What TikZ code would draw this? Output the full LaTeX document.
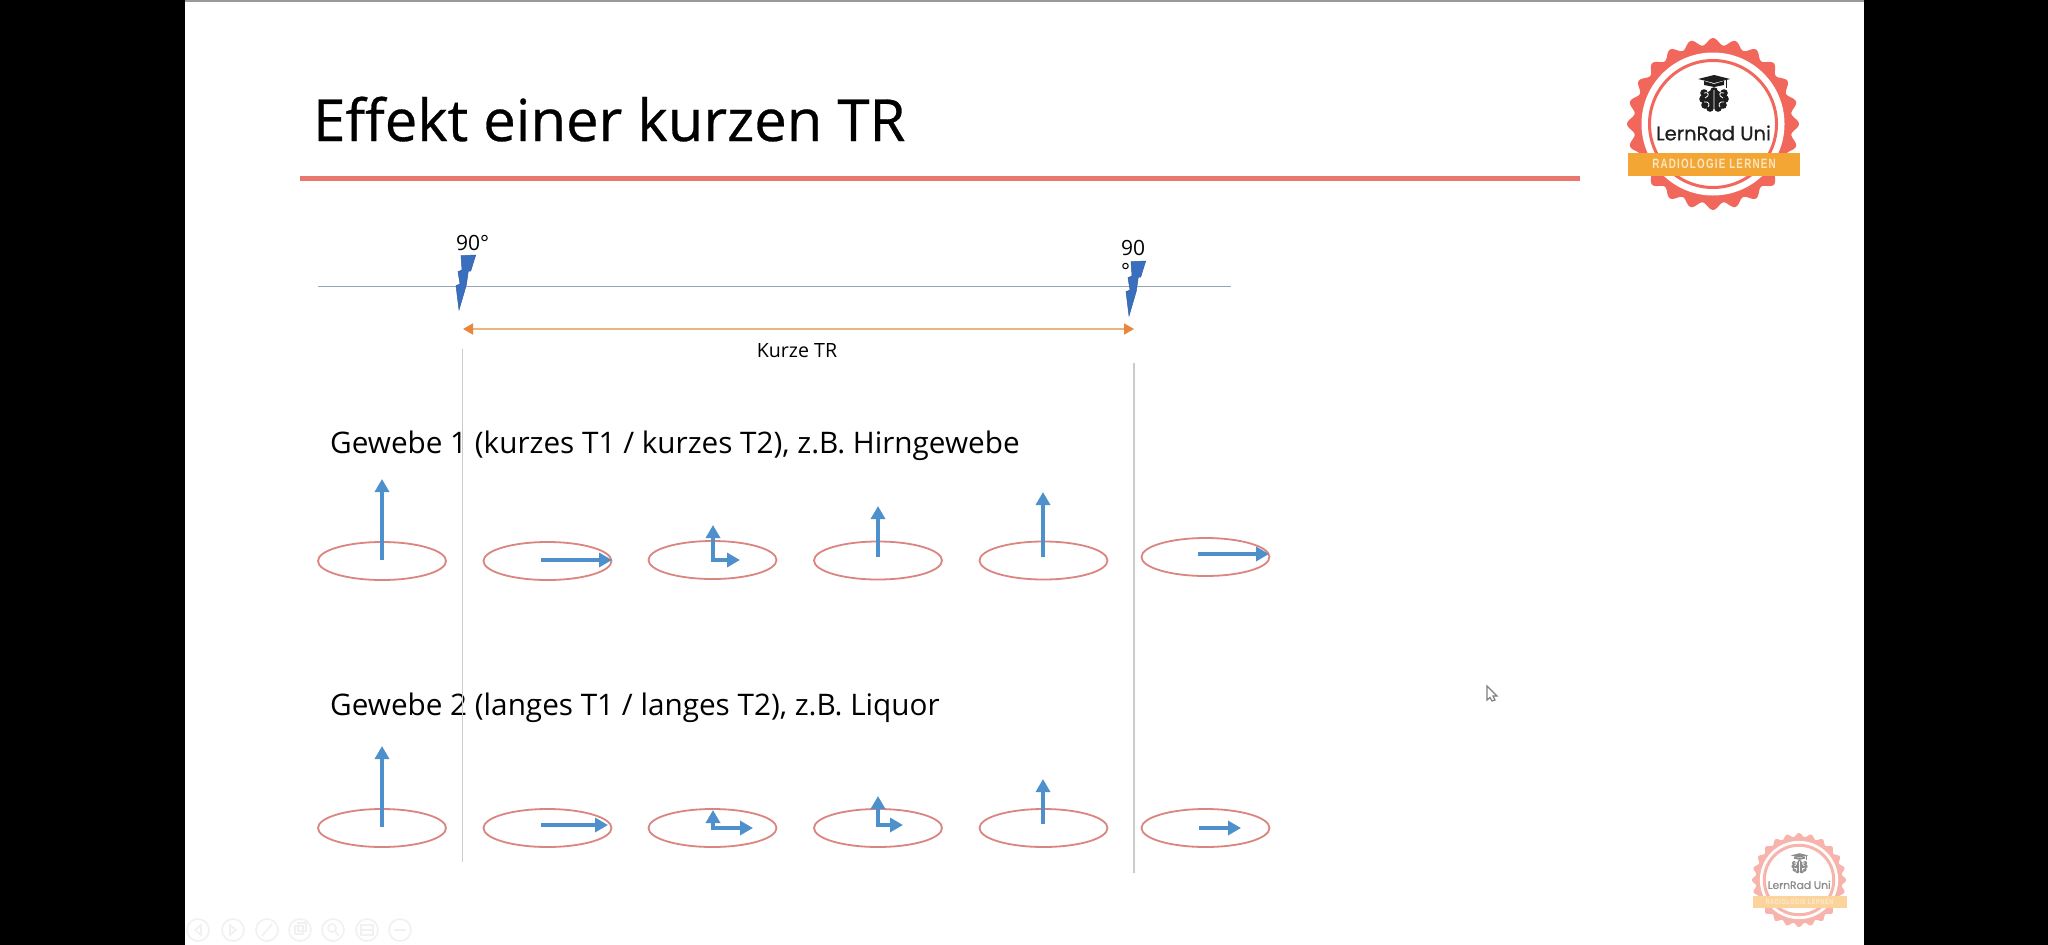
\documentclass[tikz,border=0pt]{standalone}
\usepackage{fontspec}
\setmainfont{Open Sans}
\newfontfamily\titlefont[FakeBold=0.5]{Open Sans}
\newfontfamily\logofont[FakeBold=0.6]{Poppins}
\newfontfamily\bannerfont[LetterSpace=12]{Liberation Sans}
\usetikzlibrary{shapes.geometric,arrows.meta}
\definecolor{slidered}{HTML}{E9776E}
\definecolor{ringred}{HTML}{DB8580}
\definecolor{vecblue}{HTML}{4E90CB}
\definecolor{boltblue}{HTML}{3A6FBF}
\definecolor{axisgrey}{HTML}{93A5B5}
\definecolor{guide}{HTML}{CBCBCB}
\definecolor{orangeline}{HTML}{EBB67C}
\definecolor{orangetip}{HTML}{E8873C}
\definecolor{toolgrey}{HTML}{F1F1F1}
\tikzset{
  disc/.style={ellipse,draw=ringred,line width=1.8pt,minimum width=128pt,minimum height=38pt,inner sep=0pt},
  vec/.style={draw=vecblue,line width=4.6pt,line cap=butt,-{Triangle[length=13pt,width=14pt]}},
  guideline/.style={draw=guide,line width=1.4pt},
  heading/.style={anchor=base west,inner sep=0pt,font=\fontsize{29.7}{35}\selectfont},
  toolicon/.style={draw=toolgrey,line width=1.6pt,fill=none},
  toolglyph/.style={draw=toolgrey,line width=1.6pt}
}
\newcommand{\lightningbolt}[1]{%
  \fill[boltblue,draw=boltblue!85!black,line width=.5pt,shift={(#1)}]
   (461,255.7)--(475.7,255)--(470.7,271)--(468.3,271)--(466.3,285)--(459,310)--(456,285.7)--(460,284)--(458,271.7)--(462,270)--cycle;}
\newcommand{\lernlogo}[4]{% x y scale name; colours: lgred lgcream lgink lgbanner
  \begin{scope}[shift={(#1,#2)},scale=#3,transform shape]
    \fill[lgred] plot[smooth,samples=289,domain=0:360,variable=\t] ({(82.5+3.5*cos(24*\t))*cos(\t)},{(82.5+3.5*cos(24*\t))*sin(\t)}) -- cycle;
    \fill[white] (0,0) circle (71.5);
    \draw[lgred,line width=3pt] (0,0) circle (63.5);
    % cap
    \fill[lgink] (-15,-45)--(1,-49)--(17,-45)--(1,-41)--cycle;
    \fill[lgink] (-9,-43)--(1,-40)--(11,-43)--(11,-39)--(1,-37)--(-9,-39)--cycle;
    \draw[lgink,line width=1pt] (13,-45)--(13,-36);
    % brain
    \fill[lgink] (1,-25) ellipse (10 and 9);
    \foreach \px/\py in {-9/-31,-10/-25,-8/-19,-3/-16,5/-16,10/-19,12/-25,11/-31,1/-33}{\fill[lgink] (\px,\py) circle (3.8);}
    \draw[white,line width=.8pt] (1,-34)--(1,-16) (-9,-31) .. controls (-4,-33) and (-3,-28) .. (-8,-26) (-9,-22) .. controls (-4,-23) and (-3,-19) .. (-5,-17) (11,-31) .. controls (6,-33) and (5,-28) .. (10,-26) (11,-22) .. controls (6,-23) and (5,-19) .. (7,-17);
    \node[text=lgink,inner sep=0pt,font=\logofont\fontsize{19.6}{23}\selectfont] (#4text) at (0.5,9) {LernRad Uni};
    \fill[lgbanner] (-85,28.5) rectangle (87,52) node[midway,text=lgcream,inner sep=0pt,font=\bannerfont\bfseries\fontsize{13.5}{15}\selectfont] (#4banner) {\scalebox{.73}[1]{RADIOLOGIE LERNEN}};
  \end{scope}}
\begin{document}
\begin{tikzpicture}[x=1pt,y=-1pt]
\useasboundingbox (0,0) rectangle (2048,945);
\fill[black] (0,0) rectangle (2048,945);
\fill[white] (185,0) rectangle (1864,945);
\fill[gray!80] (185,0) rectangle (1864,1.5);
% title
\node[anchor=base west,inner sep=0pt,font=\titlefont\fontsize{58}{66}\selectfont] (title) at (313,141) {Effekt einer kurzen TR};
\coordinate (ruleL) at (300,178); \coordinate (ruleR) at (1580,178);
\draw[slidered,line width=5pt] (ruleL)--(ruleR);
% timeline
\coordinate (axisL) at (318,286.3); \coordinate (axisR) at (1230.5,286.3);
\draw[axisgrey,line width=1.5pt] (axisL)--(axisR);
\lightningbolt{0,0}
\lightningbolt{670,6}
\node[anchor=base west,inner sep=0pt,font=\fontsize{21}{25}\selectfont] (pulseA) at (456,250) {90°};
\node[anchor=north west,align=left,inner sep=0pt,font=\fontsize{21}{23}\selectfont] (pulseB) at (1121,240) {90\\°};
\coordinate (trL) at (463,329); \coordinate (trR) at (1134,329);
\draw[orangeline,line width=1.8pt,{Triangle[length=10pt,width=11pt,color=orangetip]}-{Triangle[length=10pt,width=11pt,color=orangetip]}] (trL)--(trR);
\node[inner sep=0pt,font=\fontsize{19.6}{23}\selectfont] (trlabel) at (797,351) {Kurze TR};
% headings
\node[heading] (gew1) at (330,453) {Gewebe 1 (kurzes T1 / kurzes T2), z.B. Hirngewebe};
\node[heading] (gew2) at (330,715) {Gewebe 2 (langes T1 / langes T2), z.B. Liquor};
% guides
\coordinate (gA1) at (462.7,349); \coordinate (gA2) at (462.7,862);
\coordinate (gB1) at (1134,363); \coordinate (gB2) at (1134,873);
\draw[guideline] (gA1)--(gA2);
\draw[guideline] (gB1)--(gB2);
% row 1 discs
\node[disc] (a1) at (382,561) {};
\node[disc] (a2) at (547.5,561) {};
\node[disc] (a3) at (712.5,560) {};
\node[disc] (a4) at (878,560.5) {};
\node[disc] (a5) at (1043.5,560.5) {};
\node[disc] (a6) at (1205.5,557) {};
% row 2 discs
\node[disc] (b1) at (382,828) {};
\node[disc] (b2) at (547.5,828) {};
\node[disc] (b3) at (712.5,828) {};
\node[disc] (b4) at (878,828) {};
\node[disc] (b5) at (1043.5,828) {};
\node[disc] (b6) at (1205.5,828) {};
% row 1 vectors
\coordinate (a1o) at (382,560); \coordinate (a1z) at (382,479);
\draw[vec] (a1o)--(a1z);
\coordinate (a2o) at (541,560); \coordinate (a2x) at (612,560);
\draw[vec] (a2o)--(a2x);
\coordinate (a3o) at (713,560); \coordinate (a3z) at (713,525); \coordinate (a3x) at (740,560);
\draw[vec] ([yshift=-2.3pt]a3o)--(a3z);
\draw[vec] ([xshift=-2.3pt]a3o)--(a3x);
\coordinate (a4o) at (878,557); \coordinate (a4z) at (878,506);
\draw[vec] (a4o)--(a4z);
\coordinate (a5o) at (1043,557); \coordinate (a5z) at (1043,492);
\draw[vec] (a5o)--(a5z);
\coordinate (a6o) at (1198,554); \coordinate (a6x) at (1269,554);
\draw[vec] (a6o)--(a6x);
% row 2 vectors
\coordinate (b1o) at (382,827); \coordinate (b1z) at (382,746);
\draw[vec] (b1o)--(b1z);
\coordinate (b2o) at (541,825); \coordinate (b2x) at (608,825);
\draw[vec] (b2o)--(b2x);
\coordinate (b3o) at (713,828); \coordinate (b3z) at (713,810); \coordinate (b3x) at (753,828);
\draw[vec] ([yshift=-2.3pt]b3o)--(b3z);
\draw[vec] ([xshift=-2.3pt]b3o)--(b3x);
\coordinate (b4o) at (878,825); \coordinate (b4z) at (878,796); \coordinate (b4x) at (903,825);
\draw[vec] ([yshift=-2.3pt]b4o)--(b4z);
\draw[vec] ([xshift=-2.3pt]b4o)--(b4x);
\coordinate (b5o) at (1043,824); \coordinate (b5z) at (1043,779);
\draw[vec] (b5o)--(b5z);
\coordinate (b6o) at (1199,828); \coordinate (b6x) at (1241,828);
\draw[vec] (b6o)--(b6x);
% logos
\definecolor{lgred}{HTML}{F2675C}
\definecolor{lgink}{HTML}{1E1E1E}
\definecolor{lgbanner}{HTML}{F3A633}
\definecolor{lgcream}{HTML}{FBE6C4}
\lernlogo{1713}{124}{1}{big}
\definecolor{lgred}{HTML}{F8B3AC}
\definecolor{lgink}{HTML}{8C8C8C}
\definecolor{lgbanner}{HTML}{FAD49A}
\definecolor{lgcream}{HTML}{FBEBD2}
\lernlogo{1799}{880}{.547}{small}
% toolbar
\foreach \tx in {198,233,267,300,333,367,400}{\draw[toolicon] (\tx,930) circle (11);}
\draw[toolglyph] (201,925)--(195,930)--(201,935)--cycle;
\draw[toolglyph] (230,925)--(236,930)--(230,935)--cycle;
\draw[toolglyph] (262,936)--(272,924);
\draw[toolglyph] (295,926) rectangle (303,934) (298,923) rectangle (306,931);
\draw[toolglyph] (332,928) circle (4) (335,931)--(339,936);
\draw[toolglyph] (361,925) rectangle (373,935) (361,930)--(373,930);
\draw[toolglyph] (394,930)--(406,930);
% cursor
\draw[gray,line width=1.2pt,fill=white] (1487,686)--(1487,700)--(1490,697.5)--(1492,701)--(1495,700)--(1493,696)--(1497,696)--cycle;
\end{tikzpicture}
\end{document}
